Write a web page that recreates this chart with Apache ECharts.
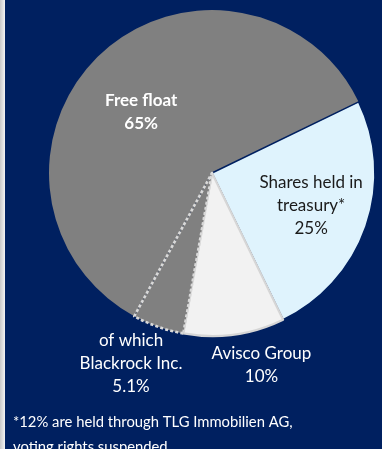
<!DOCTYPE html>
<html>
<head>
<meta charset="utf-8">
<script src="https://cdn.jsdelivr.net/npm/echarts@6/dist/echarts.min.js"></script>
<style>
  html, body { margin: 0; padding: 0; background: #002060; }
  #chart { width: 382px; height: 449px; }
</style>
</head>
<body>
<div id="chart"></div>
<script>
// Shareholder structure (percent of shares)
const categories = ['Free float', 'Shares held in\ntreasury*', 'Avisco Group'];
const shares = [65, 25, 10];
// Part of the free float held by one investor
const subHolderName = 'of which\nBlackrock Inc.';
const subHolderShare = 5.1;
const footnote = '*12% are held through TLG Immobilien AG,\nvoting rights suspended';

const navy = '#002060';
const chart = echarts.init(document.getElementById('chart'), null, { renderer: 'canvas' });

// Slice order is chosen so the dotted "of which" wedge is drawn last (on top)
const pieData = [
  { name: categories[0], value: shares[0] - subHolderShare, labelText: categories[0] + '\n' + shares[0] + '%',
    itemStyle: { color: '#808080', borderWidth: 0 },
    label: { color: '#ffffff', fontWeight: 'bold' } },
  { name: categories[1], value: shares[1], labelText: categories[1] + '\n' + shares[1] + '%',
    itemStyle: { color: '#dff3fd', borderColor: navy, borderWidth: 1.6 },
    label: { color: '#1a1a1a' } },
  { name: categories[2], value: shares[2], labelText: categories[2] + '\n' + shares[2] + '%',
    itemStyle: { color: '#f2f2f2', borderColor: '#d6d6d6', borderWidth: 2.2 },
    label: { color: '#ffffff' } },
  { name: subHolderName, value: subHolderShare, labelText: subHolderName + '\n' + subHolderShare + '%',
    itemStyle: { color: '#808080', borderColor: '#d9d9d9', borderWidth: 2.6, borderType: [3, 2.2] },
    label: { color: '#ffffff' } }
];

// Label nudges away from the default mid-radius spot
const labelShift = [[-12.5, 0.5], [19.3, 5], [37.9, 108.5], [-53, 110.8]];

chart.setOption({
  backgroundColor: navy,
  animation: false,
  graphic: [
    { type: 'rect', left: 0, top: 0, shape: { width: 5, height: 449 },
      style: { fill: new echarts.graphic.LinearGradient(0, 0, 1, 0, [
        { offset: 0, color: '#c8c8c8' }, { offset: 0.7, color: '#e6e6e6' }, { offset: 1, color: '#f4f4f4' }]) } },
    { type: 'text', left: 13, top: 410,
      style: { text: footnote, fill: '#ffffff', font: '14.8px Lato', lineHeight: 25 } }
  ],
  series: [{
    type: 'pie',
    center: [212, 173],
    radius: 163,
    startAngle: 241.5,
    clockwise: true,
    avoidLabelOverlap: false,
    emphasis: { disabled: true },
    label: {
      show: true,
      position: 'inside',
      fontFamily: 'Lato',
      fontSize: 17,
      lineHeight: 23,
      align: 'center',
      formatter: p => p.data.labelText
    },
    labelLine: { show: false },
    labelLayout: p => ({ dx: labelShift[p.dataIndex][0], dy: labelShift[p.dataIndex][1] }),
    data: pieData
  }]
});
</script>
</body>
</html>
